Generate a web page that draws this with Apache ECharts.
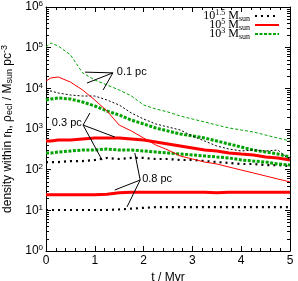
<!DOCTYPE html>
<html><head><meta charset="utf-8">
<script src="https://cdn.jsdelivr.net/npm/echarts@6/dist/echarts.min.js"></script>
<style>html,body{margin:0;padding:0;background:#fff}#c{width:298px;height:281px}</style>
</head><body><div id="c"></div>
<script>
// time samples (Myr)
const T = [0,0.1,0.25,0.5,0.75,1,1.25,1.5,1.75,2,2.25,2.5,2.75,3,3.25,3.5,3.75,4,4.25,4.5,4.75,5];
// 10^3 Msun
const green01 = [1.04e5,1.30e5,1.10e5,6.7e4,2.4e4,1.6e4,1.21e4,9.1e3,6.5e3,3.9e3,3.1e3,2.62e3,2.09e3,1.76e3,1.49e3,1.25e3,1.06e3,945,843,711,600,507];
const green03 = [5.16e3,5.46e3,5.78e3,5.46e3,4.61e3,3.68e3,2.77e3,2.21e3,1.66e3,1.33e3,1.06e3,893,754,673,600,507,428,361,304,272,243,205];
const green08 = [257,257,272,288,304,304,322,304,304,288,272,257,243,230,217,205,194,173,163,154,138,130];
// 10^5 Msun
const red01 = [1.51e4,1.80e4,1.90e4,1.43e4,9.1e3,5.16e3,2.77e3,1.25e3,893,600,404,304,217,183,154,138,116,98,83,70,59,50];
const red03 = [507,507,536,536,568,600,600,600,568,536,479,428,382,341,304,288,257,243,230,205,194,173];
const red08 = [24,24,24,24,24,24,25,27,28,28,28,28,28,28,28,27,28,28,28,28,28,28];
// 10^1.5 Msun
const black01 = [8.6e3,8.6e3,7.67e3,6.85e3,6.47e3,6.47e3,5.16e3,3.89e3,2.47e3,1.76e3,1.33e3,1.12e3,945,673,507,382,322,288,304,288,304,173];
const black03 = [154,154,154,163,163,173,194,183,194,194,183,183,173,173,163,154,146,138,138,130,130,123];
const black08 = [10.2,10.2,10.2,10.2,10.2,10.2,10.2,10.5,11,11.5,12,12,12,12,12,12,12,12,12,12,12,12];
// legend names
const LEG = ['1.5','5','3'];
// tick labels
const XTICKS = ['0','1','2','3','4','5'];
// annotations: [label, text pos [t,v], arrow origin [t,v], arrow targets]
const ANN = [
  ['0.1 pc', [1.45, 2.5e4], [1.37, 2.4e4], [[0.80, 2.5e4],[0.84, 1.35e4],[1.17, 9.1e3]]],
  ['0.3 pc', [0.12, 1.4e3], [0.76, 1.25e3], [[0.90, 2.47e3],[1.41, 635],[1.15, 172]]],
  ['0.8 pc', [1.97, 59], [1.93, 55.7], [[1.82, 257],[1.41, 31.6],[1.66, 12.1]]]
];

const SANS = 'Liberation Sans, Arial, sans-serif';
const SERIF = 'Liberation Serif, Times New Roman, serif';
const GREEN = '#00a400', RED = '#ff0000', BLACK = '#000000';
const pts = v => T.map((t,i)=>[t, v[i]]);

function mk(name, data, color, width, type){
  return {type:'line', name, data: pts(data), symbol:'none', showSymbol:false,
    lineStyle:{color, width, type, cap:'butt'}, itemStyle:{color}, silent:true, z:3};
}
const series = [
  mk('1.5', black03, BLACK, 2.2, [2,4]),
  mk('5', red03, RED, 3, 'solid'),
  mk('3', green03, GREEN, 3, [3,1.5]),
  mk('1.5', black08, BLACK, 2.2, [2,4]),
  mk('5', red08, RED, 3, 'solid'),
  mk('3', green08, GREEN, 3, [3,1.5]),
  mk('1.5', black01, BLACK, 1, [2,2]),
  mk('5', red01, RED, 1, 'solid'),
  mk('3', green01, GREEN, 1, [3,2])
];
const mlData = [];
const mpData = [];
ANN.forEach(a=>{
  a[3].forEach(tg=>mlData.push([{coord:a[2]},{coord:tg}]));
  mpData.push({name:a[0], coord:a[1]});
});
series.push({type:'line', name:'ann', data:[], silent:true,
  markLine:{silent:true, symbol:['none','arrow'], symbolSize:[0,6], animation:false,
    lineStyle:{color:'#000', width:1, type:'solid'}, label:{show:false}, emphasis:{disabled:true}, data: mlData},
  markPoint:{silent:true, symbol:'circle', symbolSize:0, animation:false,
    label:{show:true, position:'right', distance:0, formatter:'{b}', color:'#000', fontSize:11, fontFamily:SANS},
    data: mpData}
});

const legFmt = n => '{n|10}{p|' + n + '}{m| M}{s|sun}';
const legRich = {
  n:{fontFamily:SERIF, fontSize:12, lineHeight:14, color:'#000'},
  m:{fontFamily:SERIF, fontSize:12, lineHeight:14, color:'#000'},
  p:{fontFamily:SERIF, fontSize:8, lineHeight:2, verticalAlign:'top', color:'#000'},
  s:{fontFamily:SERIF, fontSize:8, lineHeight:4, verticalAlign:'bottom', color:'#000'}
};
const legends = LEG.map((n,i)=>({data:[n], orient:'vertical', right:18, top:9 + i*9, padding:0,
  itemWidth:24, itemHeight:8, itemGap:0, align:'right', selectedMode:false,
  itemStyle:{opacity:0, borderWidth:0},
  formatter: legFmt, textStyle:{rich: legRich}}));

const axLine = {onZero:false, lineStyle:{color:'#000', width:1}};
function xAx(pos, labels){
  const a = {type:'value', min:0, max:5, interval:1, position:pos,
    axisLine: axLine, splitLine:{show:false},
    axisTick:{inside:true, length:5, lineStyle:{color:'#000'}},
    minorTick:{show:true, splitNumber:5, length:3, lineStyle:{color:'#000'}},
    axisLabel:{show:false}};
  if (labels) {
    a.axisLabel = {show:true, color:'#000', fontSize:12, fontFamily:SANS, margin:4, formatter:v=>XTICKS[Math.round(v)]};
    a.name = 't / Myr'; a.nameLocation = 'middle'; a.nameGap = 15;
    a.nameTextStyle = {color:'#000', fontSize:12, fontFamily:SANS};
  }
  return a;
}
function yAx(pos, labels){
  const a = {type:'log', logBase:10, min:1, max:1e6, position:pos,
    axisLine: axLine, splitLine:{show:false},
    axisTick:{inside:true, length:5, lineStyle:{color:'#000'}},
    minorTick:{show:true, splitNumber:9, length:3, lineStyle:{color:'#000'}},
    axisLabel:{show:false}};
  if (labels) {
    a.axisLabel = {show:true, color:'#000', margin:3,
      formatter:v=>'{b|10}{s|'+Math.round(Math.log10(v))+'}',
      rich:{b:{fontFamily:SANS, fontSize:12, lineHeight:14, color:'#000'},
            s:{fontFamily:SANS, fontSize:8, lineHeight:4, verticalAlign:'top', color:'#000'}}};
    a.name = 'density within r{sub|h}, ρ{sub|ecl} / M{sub|sun} pc{sup|-3}';
    a.nameLocation = 'middle'; a.nameRotate = 90; a.nameGap = 27;
    a.nameTextStyle = {color:'#000', fontSize:12, fontFamily:SANS, lineHeight:14,
      rich:{sub:{fontFamily:SANS, fontSize:9, lineHeight:6, verticalAlign:'bottom', color:'#000'},
            sup:{fontFamily:SANS, fontSize:9, lineHeight:4, verticalAlign:'top', color:'#000'}}};
  }
  return a;
}
const option = {
  animation:false,
  grid:{left:46, right:8, top:7, bottom:30, containLabel:false, outerBoundsMode:'none'},
  legend: legends,
  xAxis:[ xAx('bottom', true), xAx('top', false) ],
  yAxis:[ yAx('left', true), yAx('right', false) ],
  series
};
const chart = echarts.init(document.getElementById('c'), null, {renderer:'canvas'});
chart.setOption(option);
</script>
</body></html>
